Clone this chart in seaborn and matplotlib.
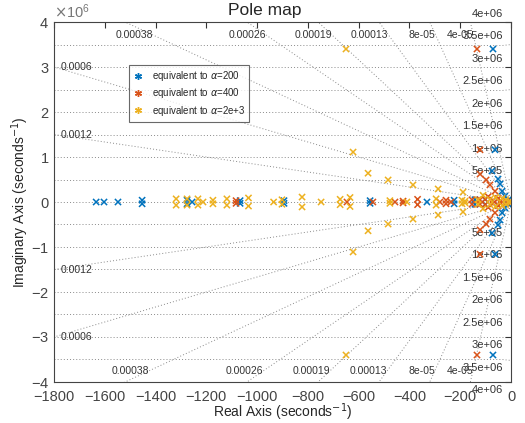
import numpy as np
import pandas as pd
import matplotlib
matplotlib.use("Agg")
import matplotlib.pyplot as plt
from matplotlib.lines import Line2D
from matplotlib.ticker import ScalarFormatter
import seaborn as sns

# ---------------- data (imaginary parts in units of 1e6 s^-1, upper half; mirrored) -------------
series_labels = [r"equivalent to $\alpha$=200", r"equivalent to $\alpha$=400", r"equivalent to $\alpha$=2e+3"]

blue_re = [-1634, -1603, -1548, -1453, -1276, -1256, -1067, -894, -555, -331, -224, -142, -102,
           -75, -51, -43, -35, -24, -63, -71, -10, -5]
blue_im = [0, 0, 0, 0.04, 0.04, 0, 0.03, 0.03, 0.03, 0, 0.04, 0.05, 0.06,
           0.69, 0.51, 0.40, 0.24, 0.13, 1.16, 3.40, 0.05, 0]

red_re = [-1083, -646, -544, -457, -425, -368, -280, -256, -236, -154, -122, -102, -71, -40, -16,
          -122, -98, -83, -63, -122, -134, -90, -50]
red_im = [0.03, 0, 0, 0, 0.02, 0.06, 0, 0.04, 0, 0.05, 0.05, 0.06, 0.04, 0.03, 0,
          0.62, 0.49, 0.38, 0.24, 1.16, 3.40, 0.12, 0.08]

yel_re = [-1319, -1276, -1233, -1213, -1174, -1119, -1034, -935, -902, -823, -748, -673, -634,
          -477, -410, -295, -193, -181, -130, -83, -35, -4,
          -650, -622, -563, -484, -386, -287, -189, -110, -60, -20]
yel_im = [0.07, 0.07, 0.07, 0, 0.04, 0.07, 0.09, 0, 0.05, 0.11, 0, 0.06, 0.10,
          0.03, 0, 0.07, 0.04, 0.02, 0.05, 0.06, 0.08, 0.02,
          3.40, 1.11, 0.64, 0.49, 0.38, 0.29, 0.22, 0.15, 0.10, 0.05]

zeta_vals = [0.0012, 0.0006, 0.00038, 0.00026, 0.00019, 0.00013, 8e-05, 4e-05]
zeta_text = ["0.0012", "0.0006", "0.00038", "0.00026", "0.00019", "0.00013", "8e-05", "4e-05"]
wn_vals = [0.5e6, 1e6, 1.5e6, 2e6, 2.5e6, 3e6, 3.5e6, 4e6]
wn_text = ["5e+05", "1e+06", "1.5e+06", "2e+06", "2.5e+06", "3e+06", "3.5e+06", "4e+06"]

x_ticks = [-1800, -1600, -1400, -1200, -1000, -800, -600, -400, -200, 0]
y_ticks = [-4e6, -3e6, -2e6, -1e6, 0, 1e6, 2e6, 3e6, 4e6]

colors = ["#0072BD", "#D95319", "#EDB120"]

# ---------------- build table ----------------
rows = []
for lab, res, ims in zip(series_labels, [blue_re, red_re, yel_re], [blue_im, red_im, yel_im]):
    for r, i in zip(res, ims):
        if i == 0:
            rows.append((r, 0.0, lab))
        else:
            rows.append((r, i * 1e6, lab))
            rows.append((r, -i * 1e6, lab))
df = pd.DataFrame(rows, columns=["re", "im", "series"])

sns.set_theme(style="white")
plt.rcParams["font.family"] = ["Liberation Sans", "DejaVu Sans"]
plt.rcParams["mathtext.fontset"] = "dejavusans"

fig = plt.figure(figsize=(5.25, 4.23), dpi=100)
ax = fig.add_axes([54 / 525, (423 - 382) / 423, 457 / 525, 360 / 423])

xmin, xmax, ymin, ymax = -1800, 0, -4e6, 4e6
grid_kw = dict(color="#8a8a8a", lw=0.7, ls=(0, (1, 2.2)), zorder=0)

# natural-frequency "circles" (horizontal at this scale) and real axis
for w in wn_vals[:-1]:
    xs = np.linspace(xmin, 0, 50)
    ax.plot(xs, np.sqrt(np.maximum(w**2 - xs**2, 0)), **grid_kw)
    ax.plot(xs, -np.sqrt(np.maximum(w**2 - xs**2, 0)), **grid_kw)
ax.plot([xmin, 0], [0, 0], **grid_kw)

# damping lines
wn_line = np.linspace(0, 6e6, 50)
lab_kw = dict(fontsize=7.5, color="#333333", va="center")
for z, zt in zip(zeta_vals, zeta_text):
    re_l = -z * wn_line
    im_l = wn_line * np.sqrt(1 - z**2)
    ax.plot(re_l, im_l, **grid_kw)
    ax.plot(re_l, -im_l, **grid_kw)
    if 1800 / z < 3.6e6:
        yy = 1800 / z
        ax.text(-1772, yy, zt, ha="left", **lab_kw)
        ax.text(-1772, -yy, zt, ha="left", **lab_kw)
    else:
        ax.text(-z * 3.71e6, 3.71e6, zt, ha="right", **lab_kw)
        ax.text(-z * 3.75e6, -3.75e6, zt, ha="right", **lab_kw)

for w, wt in zip(wn_vals, wn_text):
    ax.text(-32, w + 0.18e6, wt, fontsize=8, color="#333333", ha="right", va="center")
    ax.text(-32, -(w + 0.18e6), wt, fontsize=8, color="#333333", ha="right", va="center")

sns.scatterplot(data=df, x="re", y="im", hue="series", hue_order=series_labels,
                palette=colors, marker="x", s=20, linewidth=1.1, legend=False, ax=ax, zorder=3)

ax.set_xlim(xmin, xmax)
ax.set_ylim(ymin, ymax)
ax.set_xticks(x_ticks)
ax.set_yticks(y_ticks)
fmt = ScalarFormatter(useMathText=True)
fmt.set_powerlimits((0, 0))
ax.yaxis.set_major_formatter(fmt)
ax.tick_params(direction="in", length=4, width=0.8, top=True, right=True,
               labelsize=10.5, colors="#333333", labelcolor="#444444")
ax.tick_params(axis="x", pad=6)
ax.yaxis.get_offset_text().set_fontsize(10.5)
ax.yaxis.get_offset_text().set_color("#777777")
for sp in ax.spines.values():
    sp.set_color("#444444")
    sp.set_linewidth(0.8)

ax.set_xlabel(r"Real Axis (seconds$^{-1}$)", fontsize=10, labelpad=-2)
ax.set_ylabel(r"Imaginary Axis (seconds$^{-1}$)", fontsize=10, labelpad=0)
ax.text(0.462, 1.012, "Pole map", transform=ax.transAxes, ha="center", va="bottom", fontsize=12.5)

handles = [Line2D([], [], ls="none", marker=(6, 2, 0), color=c, markersize=5, mew=1.0) for c in colors]
leg = ax.legend(handles, series_labels, loc="upper left", bbox_to_anchor=(-1525, 3.15e6),
                bbox_transform=ax.transData, fontsize=7, frameon=True, fancybox=False,
                handlelength=1.2, handletextpad=0.8, borderpad=0.4, labelspacing=0.35)
leg.get_frame().set_edgecolor("#444444")
leg.get_frame().set_linewidth(0.8)

fig.savefig("out.png", dpi=100)
